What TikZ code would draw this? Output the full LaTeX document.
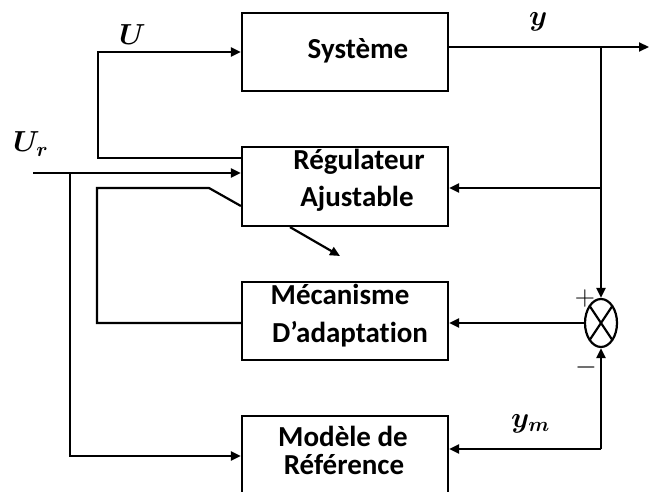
\RequirePackage{fix-cm}
\documentclass[tikz,border=0pt]{standalone}
\usepackage{fontspec}
\setmainfont{Carlito}[Ligatures=NoCommon]
\usepackage{bm}
\usetikzlibrary{arrows.meta,shapes.geometric,calc}

\tikzset{
  blk/.style={draw, line width=2.2pt, rectangle, minimum width=206pt, inner sep=0pt},
  txt/.style={anchor=base, inner sep=0pt, font=\fontsize{29}{32}\selectfont\bfseries},
  sig/.style={anchor=base west, inner sep=0pt, font=\fontsize{29}{32}\selectfont},
  wire/.style={line width=2.2pt},
  arr/.style={wire, -{Triangle[length=10pt,width=9pt]}},
  sgn/.style={inner sep=0pt, font=\fontsize{28}{30}\selectfont}
}

\begin{document}
\begin{tikzpicture}[x=1pt, y=-1pt]
\useasboundingbox (0,0) rectangle (649,492);
\clip (0,0) rectangle (649,492);

% blocks
\node[blk, minimum height=78pt] (sys)  at (345,52)    {};
\node[blk, minimum height=79pt] (reg)  at (345,186.5) {};
\node[blk, minimum height=78pt] (meca) at (345,321)   {};
\node[blk, minimum height=78pt] (mod)  at (345,455)   {};

% block texts
\node[txt] (sysT)   at (358,59)  {Système};
\node[txt] (regT1)  at (359,170) {Régulateur};
\node[txt] (regT2)  at (357,207) {Ajustable};
\node[txt] (mecaT1) at (340,305) {Mécanisme};
\node[txt] (mecaT2) at (350,343) {D’adaptation};
\node[txt] (modT1)  at (343,446) {Modèle de};
\node[txt] (modT2)  at (344,474) {Référence};

% comparator
\node[draw, ellipse, line width=2.2pt, minimum width=32pt, minimum height=48pt, inner sep=0pt] (sum) at (601,323) {};
\draw[wire] ($(sum.center)+(-11,-16.5)$) -- ($(sum.center)+(11,16.5)$);
\draw[wire] ($(sum.center)+(-11,16.5)$) -- ($(sum.center)+(11,-16.5)$);
\node[sgn] (plus)  at (585,299) {$+$};
\node[sgn] (minus) at (586,367) {$-$};

% branch points and free ends
\coordinate (yout) at (649,47);
\coordinate (yj)   at (601,47);
\coordinate (ymj)  at (601,449);
\coordinate (urs)  at (33,173);
\coordinate (urb)  at (70,173);

% output y and its feedbacks
\draw[arr] (sys.east |- yout) -- (yout);
\draw[arr] (yj) -- (sum.north);
\draw[arr] (yj |- 0,188) -- (reg.east |- 0,188);

% error to the adaptation mechanism
\draw[arr] (sum.west) -- (meca.east |- sum.west);

% reference model output y_m
\draw[arr] (ymj) -- (sum.south);
\draw[arr] (ymj) -- (mod.east |- ymj);

% reference input U_r
\draw[arr] (urs) -- (reg.west |- urs);
\draw[arr] (urb) |- (mod.west |- 0,456);

% control signal U
\draw[arr] (reg.west |- 0,158) -| (98,52) -- (sys.west |- 0,52);

% adaptation law back into the controller
\draw[wire] (meca.west |- 0,323) -| (97,188) -- (209,188) -- (reg.west |- 0,206);

% adjustment arrow across the controller
\draw[arr] (reg.south -| 290,0) -- (340,256);

% signal labels
\node[sig] (lU)  at (119,45)  {$\bm{U}$};
\node[sig] (lUr) at (13,152)  {$\bm{U_r}$};
\node[sig] (ly)  at (529,26)  {$\bm{y}$};
\node[sig] (lym) at (511,427) {$\bm{y_m}$};
\end{tikzpicture}
\end{document}
